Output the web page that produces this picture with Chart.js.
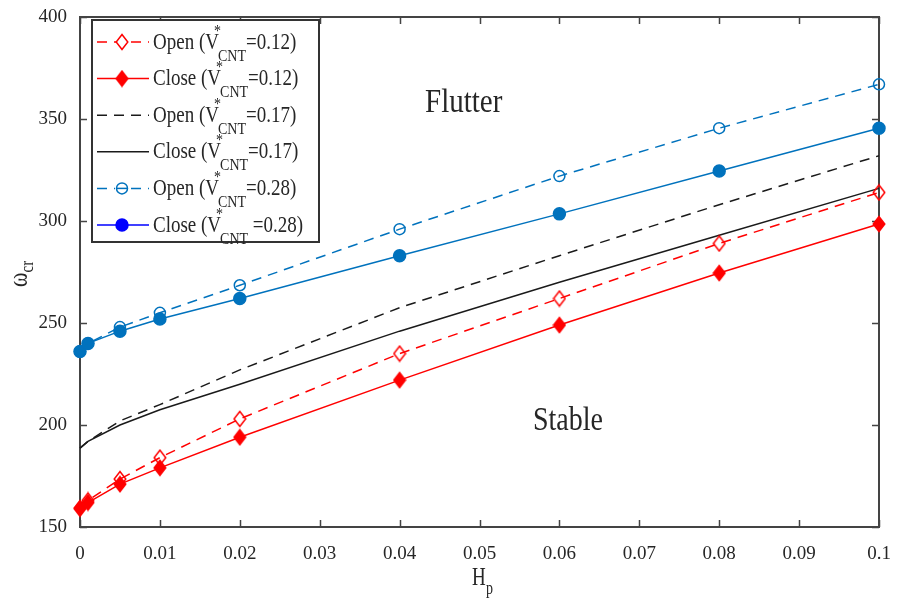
<!DOCTYPE html>
<html>
<head>
<meta charset="utf-8">
<script src="https://cdn.jsdelivr.net/npm/chart.js@4.4.1/dist/chart.umd.min.js"></script>
<style>
  html, body { margin: 0; padding: 0; background: #fff; }
  canvas { display: block; }
</style>
</head>
<body>
<canvas id="flutter" width="899" height="601"></canvas>
<script>
// H_p values where the curves were sampled
var hp = [0, 0.001, 0.005, 0.01, 0.02, 0.04, 0.06, 0.08, 0.1];

// critical frequency
var open012  = [159, 163, 173.5, 184, 203, 235, 262, 289, 314];
var close012 = [159.3, 162, 171, 179, 194, 222, 249, 274.5, 298.5];
var open017  = [188.7, 192, 202, 210, 227, 257.5, 283, 308, 332];
var close017 = [188.7, 192, 200, 207.5, 220, 246, 270, 293, 316];
var open028  = [236, 240, 248, 255, 268.5, 296, 322, 345.5, 367];
var close028 = [236, 240, 246, 252, 262, 283, 303.5, 324.5, 345.5];

var legendKinds = ['Open', 'Close', 'Open', 'Close', 'Open', 'Close'];
var legendV = ['=0.12)', '=0.12)', '=0.17)', '=0.17)', '=0.28)', ' =0.28)'];

var SERIF = "'Liberation Serif', 'Times New Roman', serif";
var RED = '#ff0000', BLACK = '#1a1a1a', BLUE = '#0072bd';

function diamond(filled, color) {
    var c = document.createElement('canvas');
    c.width = 14; c.height = 18;
    var g = c.getContext('2d');
    g.beginPath();
    g.moveTo(7, 1.5); g.lineTo(12.8, 9); g.lineTo(7, 16.5); g.lineTo(1.2, 9); g.closePath();
    if (filled) { g.fillStyle = color; g.fill(); }
    g.strokeStyle = color; g.lineWidth = 1.5; g.stroke();
    return c;
}
var dOpen = diamond(false, RED), dFull = diamond(true, RED);

function pts(ys) {
    return hp.map(function (x, i) { return { x: x, y: ys[i] }; });
}

function ds(ys, color, dashed, style, filled, r) {
    return {
        data: pts(ys),
        borderColor: color,
        borderWidth: 1.5,
        borderDash: dashed ? [10, 7] : [],
        pointStyle: style,
        pointRadius: style === false ? 0 : r,
        pointBorderWidth: 1.5,
        pointBorderColor: color,
        pointBackgroundColor: filled ? color : 'rgba(0,0,0,0)',
        tension: 0,
        clip: false
    };
}

var datasets = [
    ds(open012, RED, true, dOpen, false, 7),
    ds(close012, RED, false, dFull, true, 7),
    ds(open017, BLACK, true, false, false, 0),
    ds(close017, BLACK, false, false, false, 0),
    ds(open028, BLUE, true, 'circle', false, 5.5),
    ds(close028, BLUE, false, 'circle', true, 6)
];

function sText(ctx, txt, x, y, size, sy) {
    ctx.save();
    ctx.font = size + 'px ' + SERIF;
    ctx.textBaseline = 'alphabetic';
    ctx.textAlign = 'left';
    ctx.translate(x, y);
    ctx.scale(1, sy);
    ctx.fillText(txt, 0, 0);
    var w = ctx.measureText(txt).width;
    ctx.restore();
    return w;
}

var framePlugin = {
    id: 'frame',
    beforeDatasetsDraw: function (chart) {
        var ctx = chart.ctx, a = chart.chartArea;
        var sx = chart.scales.x, sy = chart.scales.y;
        ctx.save();
        ctx.strokeStyle = '#444';
        ctx.lineWidth = 1.5;
        ctx.beginPath();
        sx.ticks.forEach(function (t) {
            var px = Math.round(sx.getPixelForValue(t.value)) + 0.5;
            ctx.moveTo(px, a.bottom); ctx.lineTo(px, a.bottom - 7);
            ctx.moveTo(px, a.top); ctx.lineTo(px, a.top + 7);
        });
        sy.ticks.forEach(function (t) {
            var py = Math.round(sy.getPixelForValue(t.value)) + 0.5;
            ctx.moveTo(a.left, py); ctx.lineTo(a.left + 7, py);
            ctx.moveTo(a.right, py); ctx.lineTo(a.right - 7, py);
        });
        ctx.stroke();
        ctx.lineWidth = 2;
        ctx.strokeRect(a.left, a.top, a.right - a.left, a.bottom - a.top);
        ctx.restore();
    },
    afterDraw: function (chart) {
        var ctx = chart.ctx;
        ctx.save();

        // legend
        ctx.fillStyle = '#fff';
        ctx.fillRect(92, 20, 227, 222);
        ctx.strokeStyle = '#333';
        ctx.lineWidth = 2;
        ctx.strokeRect(92, 20, 227, 222);
        var colors = [RED, RED, BLACK, BLACK, BLUE, '#0000ff'];
        for (var i = 0; i < 6; i++) {
            var d = chart.data.datasets[i];
            var cy = 42 + i * 36.6;
            ctx.save();
            ctx.strokeStyle = colors[i];
            ctx.lineWidth = 1.5;
            ctx.setLineDash(d.borderDash);
            ctx.beginPath();
            ctx.moveTo(97, cy); ctx.lineTo(149, cy);
            ctx.stroke();
            ctx.setLineDash([]);
            if (d.pointStyle instanceof HTMLCanvasElement) {
                ctx.fillStyle = '#fff';
                if (i === 0) { ctx.fillRect(116, cy - 7, 12, 14); }
                ctx.drawImage(d.pointStyle, 122 - 7, cy - 9);
            } else if (d.pointStyle === 'circle') {
                if (i === 4) { ctx.fillStyle = '#fff'; ctx.fillRect(115, cy - 6, 14, 12); }
                ctx.beginPath();
                ctx.arc(122, cy, d.pointRadius, 0, Math.PI * 2);
                ctx.fillStyle = colors[i];
                if (i === 5) ctx.fill();
                ctx.stroke();
                if (i === 4) {
                    ctx.beginPath(); ctx.moveTo(116.5, cy); ctx.lineTo(127.5, cy); ctx.stroke();
                }
            }
            ctx.restore();
            ctx.fillStyle = '#262626';
            var x = 153, base = cy + 6.5;
            x += sText(ctx, legendKinds[i] + ' (V', x, base, 19, 1.25);
            sText(ctx, '*', x - 5, base - 13, 14, 1.25);
            x += sText(ctx, 'CNT', x - 1, base + 12, 14, 1.25) - 1;
            sText(ctx, legendV[i], x, base, 19, 1.25);
        }

        ctx.fillStyle = '#262626';
        // region labels
        sText(ctx, 'Flutter', 425, 112, 29, 1.13);
        sText(ctx, 'Stable', 533, 430, 28, 1.18);

        // axis titles
        sText(ctx, 'H', 472, 585, 19, 1.3);
        sText(ctx, 'p', 486, 594, 14, 1.3);
        ctx.save();
        ctx.translate(27, 287);
        ctx.rotate(-Math.PI / 2);
        var w = sText(ctx, '\u03c9', 0, 0, 22, 1.2);
        sText(ctx, 'cr', w, 6, 15, 1.2);
        ctx.restore();
        ctx.restore();
    }
};

new Chart(document.getElementById('flutter'), {
    type: 'line',
    data: { datasets: datasets },
    options: {
        responsive: false,
        animation: false,
        layout: { padding: { top: 17, right: 20, left: 0, bottom: 0 } },
        plugins: { legend: { display: false }, tooltip: { enabled: false } },
        scales: {
            x: {
                type: 'linear',
                min: 0, max: 0.1,
                grid: { display: false },
                border: { display: false },
                ticks: {
                    stepSize: 0.01,
                    color: '#262626',
                    padding: 8,
                    maxRotation: 0,
                    font: { family: SERIF, size: 19 },
                    callback: function (v) { return String(Number(v.toFixed(2))); }
                },
                afterFit: function (s) { s.height = 74; }
            },
            y: {
                min: 150, max: 400,
                grid: { display: false },
                border: { display: false },
                ticks: {
                    stepSize: 50,
                    color: '#262626',
                    padding: 5,
                    font: { family: SERIF, size: 19 }
                },
                afterFit: function (s) { s.width = 80; }
            }
        }
    },
    plugins: [framePlugin]
});
</script>
</body>
</html>
